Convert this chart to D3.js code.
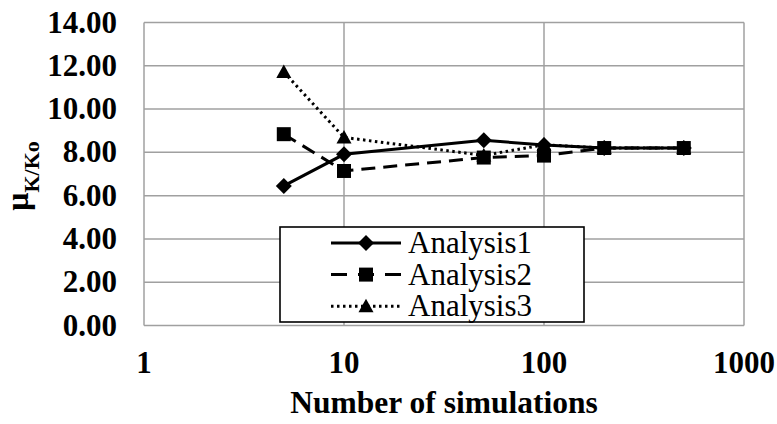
<!DOCTYPE html>
<html>
<head>
<meta charset="utf-8">
<script src="https://cdn.jsdelivr.net/npm/d3@7"></script>
<style>
  body { margin: 0; background: #fff; }
  svg { display: block; }
  text { font-family: 'Liberation Serif', 'DejaVu Serif', serif; }
</style>
</head>
<body>
<svg id="chart"></svg>
<script>
const simulations = [5, 10, 50, 100, 200, 500]
const analysis1 = [6.45, 7.91, 8.56, 8.34, 8.2, 8.2]
const analysis2 = [8.84, 7.14, 7.76, 7.85, 8.2, 8.2]
const analysis3 = [11.71, 8.69, 7.86, 8.35, 8.2, 8.2]
const seriesNames = ['Analysis1', 'Analysis2', 'Analysis3']
const xTicks = [1, 10, 100, 1000]
const yTicks = [0, 2, 4, 6, 8, 10, 12, 14]

const width = 777, height = 424

const svg = d3.select('#chart')
  .attr('width', width)
  .attr('height', height)

const x = d3.scaleLog().domain([1, 1000]).range([144, 744])
const y = d3.scaleLinear().domain([0, 14]).range([325.5, 22.5])

// gridlines
svg.append('g')
  .selectAll('line')
  .data(yTicks)
  .enter().append('line')
  .attr('x1', x(1)).attr('x2', x(1000))
  .attr('y1', d => y(d)).attr('y2', d => y(d))
  .attr('stroke', '#a0a0a0')
  .attr('stroke-width', 1.5)

svg.append('g')
  .selectAll('line')
  .data(xTicks)
  .enter().append('line')
  .attr('x1', d => x(d)).attr('x2', d => x(d))
  .attr('y1', y(0)).attr('y2', y(14))
  .attr('stroke', '#a0a0a0')
  .attr('stroke-width', 1.5)

// tick labels
svg.append('g')
  .selectAll('text')
  .data(yTicks)
  .enter().append('text')
  .attr('x', 117)
  .attr('y', d => y(d) + 10)
  .attr('text-anchor', 'end')
  .attr('font-weight', 'bold')
  .attr('font-size', 31)
  .text(d => d.toFixed(2))

svg.append('g')
  .selectAll('text')
  .data(xTicks)
  .enter().append('text')
  .attr('x', d => x(d))
  .attr('y', 373)
  .attr('text-anchor', 'middle')
  .attr('font-weight', 'bold')
  .attr('font-size', 31)
  .text(d => d)

// axis titles
svg.append('text')
  .attr('x', 444)
  .attr('y', 413)
  .attr('text-anchor', 'middle')
  .attr('font-weight', 'bold')
  .attr('font-size', 31.5)
  .text('Number of simulations')

const yTitle = svg.append('text')
  .attr('transform', 'translate(28,176) rotate(-90)')
  .attr('text-anchor', 'middle')
  .attr('font-weight', 'bold')
yTitle.append('tspan').attr('font-size', 32).text('μ')
yTitle.append('tspan').attr('font-size', 22).attr('dy', 11).text('K/Ko')

// markers
const markers = {
  diamond: 'M0,-8L8,0L0,8L-8,0Z',
  square: 'M-7,-7H7V7H-7Z',
  triangle: 'M0,-7.5L7.5,6L-7.5,6Z'
}

const series = [
  {name: seriesNames[0], values: analysis1, dash: null, marker: markers.diamond},
  {name: seriesNames[1], values: analysis2, dash: '14,8', marker: markers.square},
  {name: seriesNames[2], values: analysis3, dash: '2.5,3.5', marker: markers.triangle}
]

const line = d3.line()
  .x((d, i) => x(simulations[i]))
  .y(d => y(d))

const g = svg.append('g')
  .selectAll('g')
  .data(series)
  .enter().append('g')

g.append('path')
  .attr('d', d => line(d.values))
  .attr('fill', 'none')
  .attr('stroke', '#000')
  .attr('stroke-width', 3)
  .attr('stroke-dasharray', d => d.dash)

g.each(function (s) {
  d3.select(this).selectAll('path.m')
    .data(s.values)
    .enter().append('path')
    .attr('class', 'm')
    .attr('d', s.marker)
    .attr('transform', (d, i) => `translate(${x(simulations[i])},${y(d)})`)
    .attr('fill', '#000')
})

// legend
const legend = svg.append('g')
legend.append('rect')
  .attr('x', 280).attr('y', 227)
  .attr('width', 304).attr('height', 95)
  .attr('fill', '#fff')
  .attr('stroke', '#000')
  .attr('stroke-width', 1.6)

const item = legend.selectAll('g')
  .data(series)
  .enter().append('g')
  .attr('transform', (d, i) => `translate(0,${243 + i * 31.6})`)

item.append('line')
  .attr('x1', 331).attr('x2', 401)
  .attr('y1', 0).attr('y2', 0)
  .attr('stroke', '#000')
  .attr('stroke-width', 3)
  .attr('stroke-dasharray', (d, i) => i === 1 ? '16,11' : d.dash)

item.append('path')
  .attr('d', d => d.marker)
  .attr('transform', 'translate(366,0)')
  .attr('fill', '#000')

item.append('text')
  .attr('x', 408)
  .attr('y', 10)
  .attr('font-size', 31)
  .text(d => d.name)
</script>
</body>
</html>
